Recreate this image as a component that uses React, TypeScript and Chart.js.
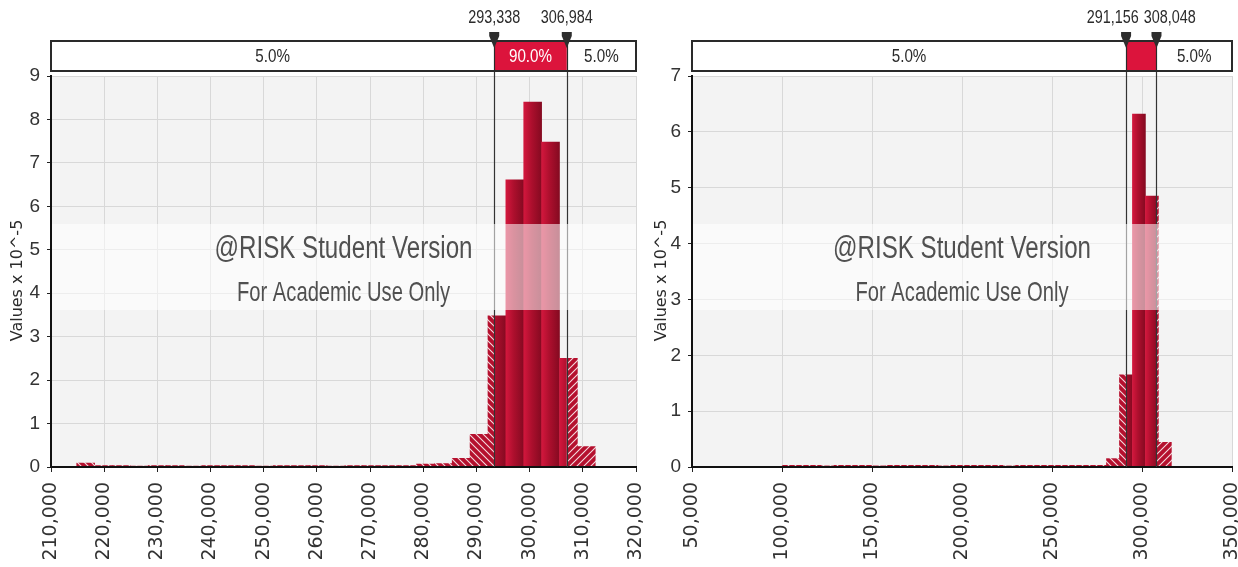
import React, { useEffect, useRef } from "react";
import { Chart, registerables } from "chart.js";

Chart.register(...registerables);

// ---------------- data ----------------
// Left histogram (bins of equal width starting at leftBinStart)
const leftBinStart = 214840;
const leftBinWidth = 3362;
const leftDensity = [
  0.09, 0.03, 0.03, 0.02, 0.03, 0.03, 0.02, 0.03, 0.03, 0.03,
  0.02, 0.03, 0.03, 0.03, 0.02, 0.03, 0.03, 0.03, 0.03, 0.07,
  0.08, 0.2, 0.75, 3.48, 6.61, 8.4, 7.48, 2.5, 0.47,
];
const leftXMin = 210000;
const leftXMax = 320000;
const leftXStep = 10000;
const leftYMax = 9;
const leftMarkers = [293338, 306984];
const leftPercents = ["5.0%", "90.0%", "5.0%"];

// Right histogram
const rightBinStart = 100100;
const rightBinWidth = 7207;
const rightDensity = [
  0.03, 0.03, 0.03, 0.02, 0.03, 0.03, 0.03, 0.02, 0.03, 0.03,
  0.03, 0.03, 0.02, 0.03, 0.03, 0.03, 0.03, 0.02, 0.03, 0.03,
  0.03, 0.03, 0.03, 0.03, 0.03, 0.15, 1.65, 6.32, 4.85, 0.44,
];
const rightXMin = 50000;
const rightXMax = 350000;
const rightXStep = 50000;
const rightYMax = 7;
const rightMarkers = [291156, 308048];
const rightPercents = ["5.0%", "90.0%", "5.0%"];

const yTitle = "Values x 10^-5";
const watermark1 = "@RISK Student Version";
const watermark2 = "For Academic Use Only";

// ---------------- styling ----------------
const NARROW =
  '"Liberation Sans Narrow", "Liberation Sans", Arial, sans-serif';
const WIDE = '"DejaVu Sans", Verdana, sans-serif';
const PAGE_H = 567;
const SQUEEZE = 0.8;

type HistConfig = {
  binStart: number;
  binWidth: number;
  values: number[];
  xMin: number;
  xMax: number;
  xStep: number;
  yMax: number;
  markers: number[];
  percents: string[];
  canvasWidth: number;
  axisWidth: number;
  padRight: number;
  titleX: number;
};

function makeHatch(ctx: CanvasRenderingContext2D, dir: "back" | "fwd") {
  const s = 7;
  const c = document.createElement("canvas");
  c.width = s;
  c.height = s;
  const g = c.getContext("2d")!;
  g.fillStyle = "#b5102e";
  g.fillRect(0, 0, s, s);
  g.strokeStyle = "rgba(255,255,255,0.85)";
  g.lineWidth = 1.1;
  g.beginPath();
  if (dir === "back") {
    g.moveTo(0, 0);
    g.lineTo(s, s);
    g.moveTo(-1, s - 1);
    g.lineTo(1, s + 1);
    g.moveTo(s - 1, -1);
    g.lineTo(s + 1, 1);
  } else {
    g.moveTo(0, s);
    g.lineTo(s, 0);
    g.moveTo(-1, 1);
    g.lineTo(1, -1);
    g.moveTo(s - 1, s + 1);
    g.lineTo(s + 1, s - 1);
  }
  g.stroke();
  return ctx.createPattern(c, "repeat") as CanvasPattern;
}

function fitText(
  ctx: CanvasRenderingContext2D,
  text: string,
  cx: number,
  baseline: number,
  font: string,
  targetW: number
) {
  ctx.font = font;
  const w = ctx.measureText(text).width;
  const s = Math.min(1, targetW / w);
  ctx.save();
  ctx.translate(cx, baseline);
  ctx.scale(s, 1);
  ctx.textAlign = "center";
  ctx.textBaseline = "alphabetic";
  ctx.fillText(text, 0, 0);
  ctx.restore();
}

function narrowText(ctx: CanvasRenderingContext2D, text: string, cx: number, cy: number) {
  ctx.save();
  ctx.translate(cx, cy);
  ctx.scale(SQUEEZE, 1);
  ctx.textAlign = "center";
  ctx.textBaseline = "middle";
  ctx.fillText(text, 0, 0);
  ctx.restore();
}

function Histogram({ cfg, left }: { cfg: HistConfig; left: number }) {
  const ref = useRef<HTMLCanvasElement>(null);

  useEffect(() => {
    const canvas = ref.current!;
    const ctx = canvas.getContext("2d")!;
    const points = cfg.values.map((v, i) => ({
      x: cfg.binStart + cfg.binWidth * (i + 0.5),
      y: v,
    }));
    const hatchBack = makeHatch(ctx, "back");
    const hatchFwd = makeHatch(ctx, "fwd");
    const [p5, p95] = cfg.markers;

    const solidFill = (c: any) => {
      const chart = c.chart;
      const xs = chart.scales && chart.scales.x;
      if (!xs || c.dataIndex === undefined || c.type !== "data") return "#a50e2a";
      const x0 = xs.getPixelForValue(cfg.binStart + c.dataIndex * cfg.binWidth);
      const x1 = xs.getPixelForValue(cfg.binStart + (c.dataIndex + 1) * cfg.binWidth);
      if (!isFinite(x0) || !isFinite(x1) || x1 <= x0) return "#a50e2a";
      const g = chart.ctx.createLinearGradient(x0, 0, x1, 0);
      g.addColorStop(0, "#d3173d");
      g.addColorStop(0.45, "#ac0f2d");
      g.addColorStop(1, "#850a21");
      return g;
    };

    const decor = {
      id: "riskDecor",
      beforeDraw(chart: any) {
        const { ctx: c, chartArea: a } = chart;
        c.save();
        c.fillStyle = "#f3f3f3";
        c.fillRect(a.left, a.top, a.right - a.left, a.bottom - a.top);
        c.restore();
      },
      beforeDatasetDraw(chart: any, args: any) {
        const { ctx: c, chartArea: a } = chart;
        const xs = chart.scales.x;
        const m0 = xs.getPixelForValue(p5);
        const m1 = xs.getPixelForValue(p95);
        const ranges = [
          [a.left, m0],
          [m0, m1],
          [m1, a.right],
        ];
        const [l, r] = ranges[args.index];
        c.save();
        c.beginPath();
        c.rect(l, 0, r - l, chart.height);
        c.clip();
      },
      afterDatasetDraw(chart: any) {
        chart.ctx.restore();
      },
      afterDatasetsDraw(chart: any) {
        const { ctx: c, chartArea: a } = chart;
        const xs = chart.scales.x;
        const boxBottom = a.top - 5;
        c.save();
        // axis lines on top of bars
        c.strokeStyle = "#111";
        c.lineWidth = 2;
        c.beginPath();
        c.moveTo(a.left, a.top);
        c.lineTo(a.left, a.bottom);
        c.lineTo(a.right, a.bottom);
        c.stroke();
        // marker lines
        c.strokeStyle = "#333";
        c.lineWidth = 1.2;
        for (const m of cfg.markers) {
          const x = Math.round(xs.getPixelForValue(m)) + 0.5;
          c.beginPath();
          c.moveTo(x, boxBottom);
          c.lineTo(x, a.bottom);
          c.stroke();
        }
        // watermark band
        c.fillStyle = "rgba(255,255,255,0.55)";
        c.fillRect(a.left + 1, a.top + 148, a.right - a.left - 1, 86);
        // watermark text
        const cx = (a.left + a.right) / 2;
        c.fillStyle = "#505050";
        fitText(c, watermark1, cx, a.top + 182, `31px ${NARROW}`, 258);
        fitText(c, watermark2, cx, a.top + 225, `28px ${NARROW}`, 213);
        c.restore();
      },
      afterDraw(chart: any) {
        const { ctx: c, chartArea: a } = chart;
        const xs = chart.scales.x;
        const boxTop = a.top - 35;
        const boxBottom = a.top - 5;
        const m0 = xs.getPixelForValue(p5);
        const m1 = xs.getPixelForValue(p95);
        c.save();
        // top box
        c.fillStyle = "#ffffff";
        c.fillRect(a.left, boxTop, a.right - a.left, boxBottom - boxTop);
        c.fillStyle = "#dc143c";
        c.fillRect(m0, boxTop, m1 - m0, boxBottom - boxTop);
        c.strokeStyle = "#2a2a2a";
        c.lineWidth = 2;
        c.strokeRect(a.left, boxTop, a.right - a.left, boxBottom - boxTop);
        c.lineWidth = 1.2;
        for (const x of [m0, m1]) {
          const xx = Math.round(x) + 0.5;
          c.beginPath();
          c.moveTo(xx, boxTop);
          c.lineTo(xx, boxBottom);
          c.stroke();
        }
        // percentages
        c.font = `19px ${NARROW}`;
        const regions = [
          [a.left, m0],
          [m0, m1],
          [m1, a.right],
        ];
        regions.forEach(([l, r], i) => {
          const t = cfg.percents[i];
          const w = c.measureText(t).width * SQUEEZE;
          if (w + 6 > r - l) return;
          c.fillStyle = i === 1 ? "#ffffff" : "#2b2b2b";
          narrowText(c, t, (l + r) / 2, (boxTop + boxBottom) / 2 + 1);
        });
        // marker pins
        c.fillStyle = "#2e2e2e";
        for (const x of [m0, m1]) {
          c.beginPath();
          c.moveTo(x - 5, boxTop - 9);
          c.lineTo(x + 5, boxTop - 9);
          c.lineTo(x + 5, boxTop - 5);
          c.lineTo(x, boxTop + 7);
          c.lineTo(x - 5, boxTop - 5);
          c.closePath();
          c.fill();
        }
        // marker labels
        c.font = `18px ${NARROW}`;
        c.fillStyle = "#2b2b2b";
        const t0 = cfg.markers[0].toLocaleString("en-US");
        const t1 = cfg.markers[1].toLocaleString("en-US");
        const w0 = c.measureText(t0).width * SQUEEZE;
        const w1 = c.measureText(t1).width * SQUEEZE;
        let c0 = m0;
        let c1 = m1;
        const need = (w0 + w1) / 2 + 5;
        if (c1 - c0 < need) {
          const mid = (c0 + c1) / 2;
          c0 = mid - need / 2;
          c1 = mid + need / 2;
        }
        narrowText(c, t0, c0, boxTop - 23);
        narrowText(c, t1, c1, boxTop - 23);
        // y-axis title
        c.save();
        c.translate(cfg.titleX, (a.top + a.bottom) / 2 + 9);
        c.rotate(-Math.PI / 2);
        c.font = `16px ${WIDE}`;
        c.fillStyle = "#2b2b2b";
        c.textAlign = "center";
        c.textBaseline = "middle";
        c.fillText(yTitle, 0, 0);
        c.restore();
        c.restore();
      },
    };

    const common = {
      borderWidth: 0,
      grouped: false,
      barPercentage: 1,
      categoryPercentage: 1,
    };

    const chart = new Chart(ctx, {
      type: "bar",
      data: {
        datasets: [
          { ...common, data: points, backgroundColor: hatchBack },
          { ...common, data: points, backgroundColor: solidFill },
          { ...common, data: points, backgroundColor: hatchFwd },
        ],
      } as any,
      options: {
        animation: false,
        responsive: false,
        events: [],
        layout: { padding: { top: 76, right: cfg.padRight, left: 0, bottom: 0 } },
        plugins: { legend: { display: false }, tooltip: { enabled: false } },
        scales: {
          x: {
            type: "linear",
            min: cfg.xMin,
            max: cfg.xMax,
            offset: false,
            grid: { color: "#d8d8d8", tickColor: "#222", tickLength: 5, offset: false },
            border: { color: "#111", width: 2 },
            ticks: {
              stepSize: cfg.xStep,
              autoSkip: false,
              maxRotation: 90,
              minRotation: 90,
              padding: 10,
              color: "#333",
              font: { family: WIDE, size: 19 },
              callback: (v: any) => Number(v).toLocaleString("en-US"),
            },
            afterFit: (s: any) => {
              s.height = PAGE_H - 467;
              s.paddingLeft = 0;
              s.paddingRight = 0;
            },
          },
          y: {
            min: 0,
            max: cfg.yMax,
            grid: { color: "#d8d8d8", tickColor: "#222", tickLength: 4 },
            border: { color: "#111", width: 2 },
            ticks: {
              stepSize: 1,
              padding: 7,
              color: "#333",
              font: { family: NARROW, size: 19 },
            },
            afterFit: (s: any) => {
              s.width = cfg.axisWidth;
              s.paddingTop = 0;
              s.paddingBottom = 0;
            },
          },
        },
      } as any,
      plugins: [decor],
    });
    return () => chart.destroy();
  }, []);

  return (
    <canvas
      ref={ref}
      width={cfg.canvasWidth}
      height={PAGE_H}
      style={{ position: "absolute", left, top: 0, width: cfg.canvasWidth, height: PAGE_H }}
    />
  );
}

const leftCfg: HistConfig = {
  binStart: leftBinStart,
  binWidth: leftBinWidth,
  values: leftDensity,
  xMin: leftXMin,
  xMax: leftXMax,
  xStep: leftXStep,
  yMax: leftYMax,
  markers: leftMarkers,
  percents: leftPercents,
  canvasWidth: 645,
  axisWidth: 51,
  padRight: 9,
  titleX: 18,
};

const rightCfg: HistConfig = {
  binStart: rightBinStart,
  binWidth: rightBinWidth,
  values: rightDensity,
  xMin: rightXMin,
  xMax: rightXMax,
  xStep: rightXStep,
  yMax: rightYMax,
  markers: rightMarkers,
  percents: rightPercents,
  canvasWidth: 593,
  axisWidth: 47,
  padRight: 6,
  titleX: 17,
};

export default function App() {
  return (
    <div
      style={{
        position: "fixed",
        left: 0,
        top: 0,
        width: 1238,
        height: PAGE_H,
        background: "#ffffff",
        overflow: "hidden",
      }}
    >
      <Histogram cfg={leftCfg} left={0} />
      <Histogram cfg={rightCfg} left={645} />
    </div>
  );
}
